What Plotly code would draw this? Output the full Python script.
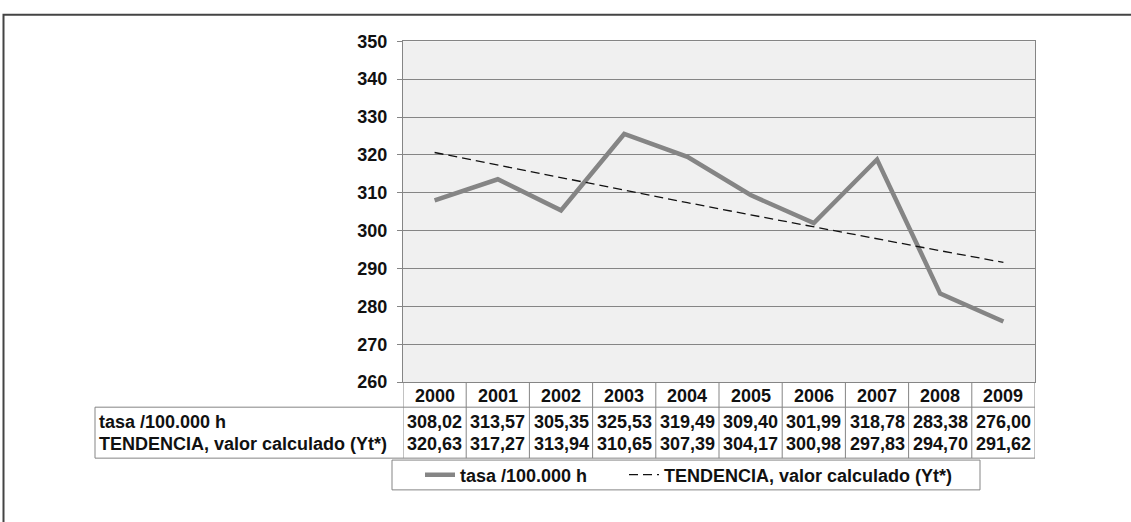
import plotly.graph_objects as go

# ---- data ----
years = ["2000", "2001", "2002", "2003", "2004", "2005", "2006", "2007", "2008", "2009"]
tasa = [308.02, 313.57, 305.35, 325.53, 319.49, 309.40, 301.99, 318.78, 283.38, 276.00]
tendencia = [320.63, 317.27, 313.94, 310.65, 307.39, 304.17, 300.98, 297.83, 294.70, 291.62]
series_names = ["tasa /100.000 h", "TENDENCIA, valor calculado (Yt*)"]
y_ticks = [260, 270, 280, 290, 300, 310, 320, 330, 340, 350]

W, H = 1131, 522
FONT = "Liberation Sans, Arial, sans-serif"
GRID = "#858585"


def px(x):
    return x / W


def py(y):
    return 1 - y / H


xs = list(range(len(years)))

fig = go.Figure()
fig.add_trace(go.Scatter(x=xs, y=tasa, mode="lines", name=series_names[0],
                         line=dict(color="#858585", width=4.5), legend="legend"))
fig.add_trace(go.Scatter(x=xs, y=tendencia, mode="lines", name=series_names[1],
                         line=dict(color="#111111", width=1.3, dash="9px,5px"), legend="legend2"))

plot_left, plot_right, plot_top, plot_bottom = 403, 1035, 32.5, 387
header_bottom, table_bottom, label_left = 413, 466, 95
leg_left, leg_right, leg_top, leg_bottom = 392, 980, 468, 499

bold = dict(family=FONT, size=18, color="#111111", weight="bold")
leg_common = dict(orientation="h", xanchor="left", yanchor="middle", y=py((leg_top + leg_bottom) / 2),
                  bgcolor="rgba(0,0,0,0)", borderwidth=0, font=bold, itemwidth=30)

fig.update_layout(
    width=W, height=H,
    margin=dict(l=0, r=0, t=0, b=0),
    paper_bgcolor="white",
    plot_bgcolor="#f0f0f0",
    font=dict(family=FONT, size=18, color="#111111"),
    showlegend=True,
    legend=dict(x=px(420), **leg_common),
    legend2=dict(x=px(624), **leg_common),
    xaxis=dict(domain=[px(plot_left), px(plot_right)], range=[-0.5, len(years) - 0.5],
               showgrid=False, zeroline=False, showticklabels=False, ticks="",
               showline=True, linecolor=GRID, linewidth=1, mirror=True, fixedrange=True),
    yaxis=dict(domain=[py(plot_bottom), py(plot_top)], range=[260, 350],
               tickvals=y_ticks, showgrid=True, gridcolor=GRID, gridwidth=1,
               zeroline=False, showline=True, linecolor=GRID, linewidth=1, mirror=True,
               ticks="outside", ticklen=5, tickcolor=GRID, ticklabelstandoff=6,
               tickfont=bold, fixedrange=True),
)

shapes = []
# outer frame
shapes.append(dict(type="rect", xref="paper", yref="paper", x0=px(3.5), x1=px(W + 20),
                   y0=py(5), y1=py(H + 20), line=dict(color="#444444", width=2)))
# table verticals
for i in range(len(years) + 1):
    shapes.append(dict(type="line", xref="x", yref="paper", x0=i - 0.5, x1=i - 0.5,
                       y0=py(plot_bottom), y1=py(table_bottom), line=dict(color=GRID, width=1)))
# label box vertical left
shapes.append(dict(type="line", xref="paper", yref="paper", x0=px(label_left), x1=px(label_left),
                   y0=py(header_bottom), y1=py(table_bottom), line=dict(color=GRID, width=1)))
# horizontals
for yy in (header_bottom, table_bottom):
    shapes.append(dict(type="line", xref="paper", yref="paper", x0=px(label_left), x1=px(plot_right),
                       y0=py(yy), y1=py(yy), line=dict(color=GRID, width=1)))
# legend box
shapes.append(dict(type="rect", xref="paper", yref="paper", x0=px(leg_left), x1=px(leg_right),
                   y0=py(leg_bottom), y1=py(leg_top), fillcolor="white",
                   line=dict(color=GRID, width=1)))
fig.update_layout(shapes=shapes)

ann = []
for i, yr in enumerate(years):
    ann.append(dict(x=i, y=py(401), xref="x", yref="paper", text=yr, showarrow=False,
                    font=bold, xanchor="center", yanchor="middle"))
for row_y, vals in ((428, tasa), (451, tendencia)):
    for i, v in enumerate(vals):
        ann.append(dict(x=i, y=py(row_y), xref="x", yref="paper",
                        text=f"{v:.2f}".replace(".", ","), showarrow=False,
                        font=bold, xanchor="center", yanchor="middle"))
for row_y, name in ((428, series_names[0]), (451, series_names[1])):
    ann.append(dict(x=px(97), y=py(row_y), xref="paper", yref="paper", text=name,
                    showarrow=False, font=bold, xanchor="left", yanchor="middle"))
fig.update_layout(annotations=ann)

fig.write_html("out.html", config={"displayModeBar": False},
               post_script="document.body.style.margin='0';document.body.style.overflow='hidden';")
